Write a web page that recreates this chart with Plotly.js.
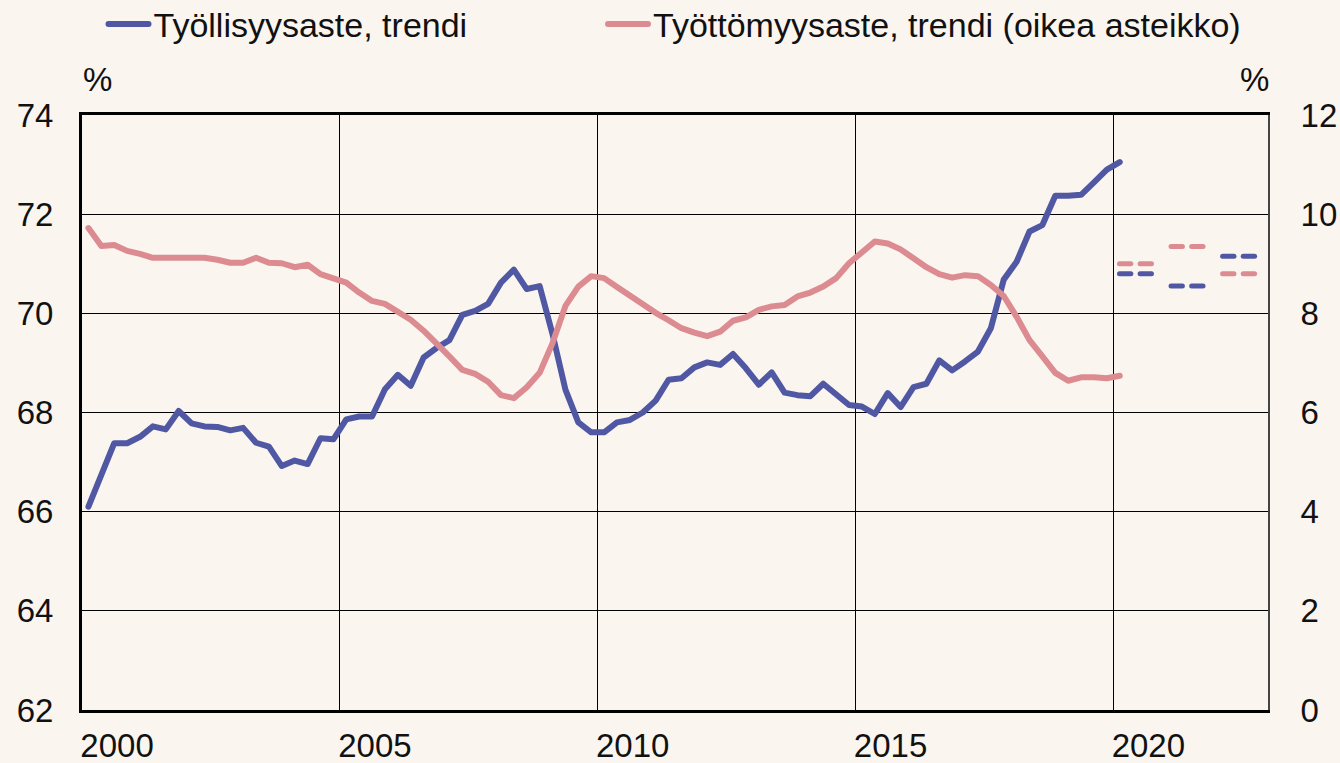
<!DOCTYPE html>
<html>
<head>
<meta charset="utf-8">
<script src="https://cdn.plot.ly/plotly-3.0.1.min.js"></script>
<style>
html, body { margin: 0; padding: 0; background: #faf5ef; }
#chart { width: 1340px; height: 763px; }
path.js-line { stroke-linejoin: round; stroke-linecap: round; }
</style>
</head>
<body>
<div id="chart"></div>
<script>
// Quarterly trend data, 2000Q1 .. 2020Q1
const startYear = 2000;
const employmentRate = [
  66.10, 66.75, 67.38, 67.38, 67.51, 67.72, 67.66, 68.03, 67.78, 67.72,
  67.71, 67.64, 67.69, 67.39, 67.31, 66.92, 67.03, 66.96, 67.48, 67.46,
  67.86, 67.92, 67.92, 68.47, 68.76, 68.54, 69.11, 69.30, 69.46, 69.97,
  70.05, 70.19, 70.62, 70.88, 70.49, 70.55, 69.58, 68.46, 67.80, 67.60,
  67.60, 67.80, 67.85, 68.00, 68.24, 68.66, 68.69, 68.91, 69.01, 68.96,
  69.18, 68.89, 68.56, 68.81, 68.40, 68.35, 68.33, 68.58, 68.37, 68.15,
  68.12, 67.97, 68.39, 68.11, 68.51, 68.58, 69.05, 68.85, 69.03, 69.23,
  69.70, 70.68, 71.04, 71.65, 71.78, 72.37, 72.37, 72.39, 72.64, 72.90,
  73.05
];
const unemploymentRate = [
  9.72, 9.36, 9.38, 9.26, 9.20, 9.12, 9.12, 9.12, 9.12, 9.12,
  9.08, 9.02, 9.02, 9.12, 9.02, 9.01, 8.93, 8.98, 8.79, 8.72,
  8.62, 8.42, 8.25, 8.19, 8.03, 7.87, 7.65, 7.41, 7.13, 6.86,
  6.78, 6.62, 6.35, 6.29, 6.51, 6.80, 7.40, 8.15, 8.54, 8.75,
  8.71, 8.53, 8.35, 8.17, 8.01, 7.86, 7.70, 7.61, 7.54, 7.63,
  7.85, 7.92, 8.07, 8.14, 8.17, 8.34, 8.42, 8.54, 8.71, 9.01,
  9.22, 9.45, 9.41, 9.29, 9.11, 8.93, 8.79, 8.72, 8.77, 8.75,
  8.57, 8.35, 7.93, 7.46, 7.13, 6.80, 6.64, 6.71, 6.71, 6.69,
  6.74
];
// Forecasts (annual)
const forecastYears = [2020, 2021, 2022];
const employmentForecast = [70.80, 70.55, 71.15];
const unemploymentForecast = [9.00, 9.35, 8.80];

const tickYears = [2000, 2005, 2010, 2015, 2020];
const tickLabels = ['2000', '2005', '2010', '2015', '2020'];
const leftTicks = [62, 64, 66, 68, 70, 72, 74];
const rightTicks = [0, 2, 4, 6, 8, 10, 12];

const legendNames = ['Työllisyysaste, trendi', 'Työttömyysaste, trendi (oikea asteikko)'];

const BLUE = '#5058a3';
const PINK = '#dc8b91';
const BG = '#faf5ef';
const FONT = 'Liberation Sans, Arial, sans-serif';

// time axis: middle of each quarter
const qTimes = employmentRate.map((_, i) => startYear + i / 4 + 0.125);

// forecast dashes: two short dashes within each forecast year
function dashSegments(years, vals) {
  const xs = [], ys = [];
  years.forEach((yr, k) => {
    [[0.12, 0.34], [0.52, 0.74]].forEach(([a, b]) => {
      xs.push(yr + a, yr + b, null);
      ys.push(vals[k], vals[k], null);
    });
  });
  return {xs, ys};
}
const empDash = dashSegments(forecastYears, employmentForecast);
const unDash = dashSegments(forecastYears, unemploymentForecast);

const traces = [
  {x: qTimes, y: employmentRate, type: 'scatter', mode: 'lines', name: legendNames[0],
   line: {color: BLUE, width: 6}, yaxis: 'y', legend: 'legend'},
  {x: qTimes, y: unemploymentRate, type: 'scatter', mode: 'lines', name: legendNames[1],
   line: {color: PINK, width: 6}, yaxis: 'y2', legend: 'legend2'},
  {x: empDash.xs, y: empDash.ys, type: 'scatter', mode: 'lines', showlegend: false,
   line: {color: BLUE, width: 5}, yaxis: 'y', connectgaps: false, hoverinfo: 'skip'},
  {x: unDash.xs, y: unDash.ys, type: 'scatter', mode: 'lines', showlegend: false,
   line: {color: PINK, width: 5}, yaxis: 'y2', connectgaps: false, hoverinfo: 'skip'}
];

const legendBase = {
  orientation: 'h', xref: 'container', yref: 'container',
  y: 0.968, xanchor: 'left', yanchor: 'middle',
  font: {family: FONT, size: 34, color: '#111'},
  bgcolor: 'rgba(0,0,0,0)', borderwidth: 0, itemwidth: 40
};

const layout = {
  width: 1340, height: 763,
  paper_bgcolor: BG, plot_bgcolor: BG,
  margin: {l: 82, r: 72, t: 115, b: 53, pad: 0},
  font: {family: FONT, size: 33, color: '#111'},
  showlegend: true,
  legend: Object.assign({}, legendBase, {x: 103.5 / 1340}),
  legend2: Object.assign({}, legendBase, {x: 603 / 1340}),
  xaxis: {
    range: [2000, 2023], showgrid: false, zeroline: false,
    tickmode: 'array', tickvals: tickYears.map(y => y + 0.68), ticktext: tickLabels,
    ticks: '', ticklabelstandoff: 4,
    showline: true, linecolor: '#000', linewidth: 3, mirror: true,
    minor: {tickmode: 'array', tickvals: tickYears.slice(1), showgrid: true,
            gridcolor: '#000', gridwidth: 1, ticks: ''},
    tickfont: {family: FONT, size: 33, color: '#111'}
  },
  yaxis: {
    range: [62, 74], tickmode: 'array', tickvals: leftTicks,
    ticktext: leftTicks.map(String),
    showgrid: true, gridcolor: '#000', gridwidth: 1, zeroline: false,
    ticks: '', ticklabelstandoff: 19,
    showline: true, linecolor: '#000', linewidth: 3,
    tickfont: {family: FONT, size: 33, color: '#111'}
  },
  yaxis2: {
    range: [0, 12], overlaying: 'y', side: 'right',
    tickmode: 'array', tickvals: rightTicks, ticktext: rightTicks.map(String),
    showgrid: false, zeroline: false, ticks: '', ticklabelstandoff: 24,
    showline: true, linecolor: '#444', linewidth: 2,
    tickfont: {family: FONT, size: 33, color: '#111'}
  },
  annotations: [
    {text: '%', xref: 'paper', yref: 'paper', x: 0.013, y: 1.059, showarrow: false,
     xanchor: 'center', yanchor: 'middle', font: {family: FONT, size: 33, color: '#111'}},
    {text: '%', xref: 'paper', yref: 'paper', x: 0.989, y: 1.059, showarrow: false,
     xanchor: 'center', yanchor: 'middle', font: {family: FONT, size: 33, color: '#111'}}
  ]
};

Plotly.newPlot('chart', traces, layout, {staticPlot: true, displayModeBar: false});
</script>
</body>
</html>
